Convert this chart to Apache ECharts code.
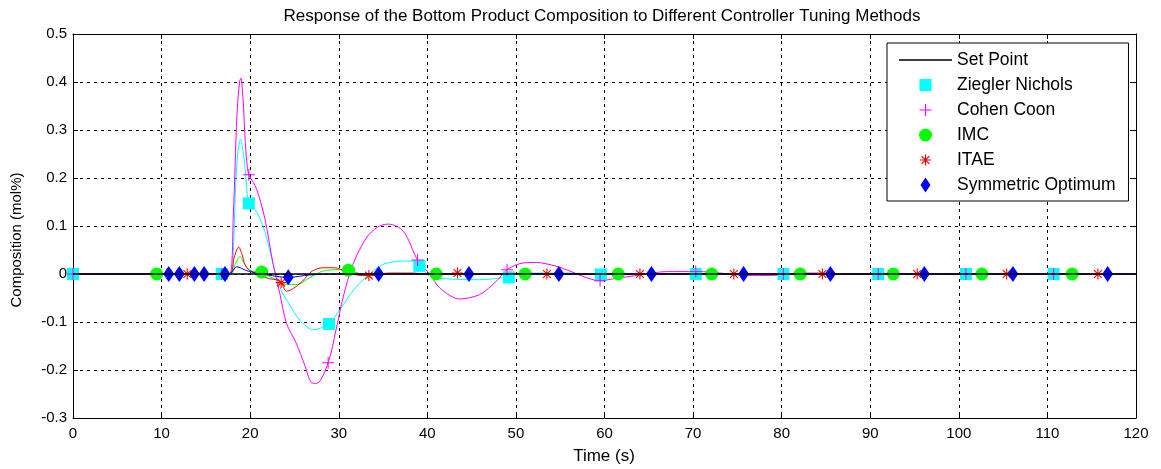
<!DOCTYPE html>
<html>
<head>
<meta charset="utf-8">
<script src="https://cdn.jsdelivr.net/npm/echarts@6/dist/echarts.min.js"></script>
<style>
  html, body { margin: 0; padding: 0; background: #fff; }
  #chart { width: 1161px; height: 469px; }
</style>
</head>
<body>
<div id="chart"></div>
<script>
// time axis (s) and composition (mol%)
var xTicks = [0, 10, 20, 30, 40, 50, 60, 70, 80, 90, 100, 110, 120]
var yTicks = [-0.3, -0.2, -0.1, 0, 0.1, 0.2, 0.3, 0.4, 0.5]

var setT = [0, 120]
var setV = [0, 0]

// Ziegler Nichols
var znT = [0, 16.8, 17.9, 18.1, 18.4, 18.65, 18.9, 19.4, 19.85, 20.7, 21.65, 22.6, 23.5, 24.5, 25.6, 27.1, 28.9, 30.1, 31.2, 32.3, 33.5, 35, 36.5, 38.2, 39.1, 40.3, 42.1, 45.9, 48.5, 49.2, 50.4, 52.3, 56, 59.6, 62, 120]
var znV = [0, 0, 0, 0.05, 0.2, 0.26, 0.281, 0.226, 0.147, 0.13, 0.089, 0.02, -0.034, -0.065, -0.096, -0.116, -0.104, -0.075, -0.045, -0.02, 0, 0.02, 0.026, 0.027, 0.017, -0.005, -0.01, -0.012, -0.008, -0.007, 0.002, 0.002, 0.002, -0.001, 0, 0]
var znMarkT = [0, 16.8, 19.85, 28.9, 39.1, 49.2, 59.6, 70.3, 80.2, 90.9, 100.8, 110.7]
var znMarkV = [0, 0, 0.147, -0.104, 0.017, -0.007, -0.001, 0, 0, 0, 0, 0]

// Cohen Coon
var ccT = [0, 16.8, 17.7, 18.1, 18.5, 18.8, 18.95, 19.2, 19.45, 19.7, 19.85, 20.7, 21.65, 22.6, 23.35, 24.1, 25.2, 26.2, 26.9, 27.5, 28.8, 29.7, 30.5, 31.6, 33.1, 34.4, 35.6, 37.3, 38.9, 40.3, 41.4, 43.6, 45.9, 47.8, 49, 50.8, 52.3, 54.6, 56.1, 58, 59.5, 61, 64, 67, 70.3, 72, 74, 76, 79, 81, 84, 88, 120]
var ccV = [0, 0, 0, 0.123, 0.329, 0.4, 0.408, 0.363, 0.274, 0.219, 0.207, 0.178, 0.116, 0.02, -0.041, -0.103, -0.144, -0.192, -0.226, -0.228, -0.185, -0.116, -0.048, 0.02, 0.075, 0.098, 0.104, 0.089, 0.029, -0.001, -0.029, -0.052, -0.043, -0.015, 0.009, 0.023, 0.024, 0.016, 0.006, -0.008, -0.014, -0.01, -0.002, 0.005, 0.005, 0.004, 0, -0.003, -0.003, 0.001, 0.002, 0, 0]
var ccMarkT = [0, 16.8, 19.85, 28.8, 38.9, 49, 59.5, 70.3, 80.2, 90.9, 100.8, 110.7]
var ccMarkV = [0, 0, 0.207, -0.185, 0.029, 0.009, -0.014, 0.005, 0, 0, 0, 0]

// IMC
var imcT = [0, 17.8, 18.3, 18.85, 19.4, 19.95, 21.1, 23, 24.1, 25.2, 26.7, 28.2, 30, 31.2, 32.7, 35, 36.8, 38, 120]
var imcV = [0, 0, 0.02, 0.036, 0.02, 0.008, 0.003, -0.012, -0.022, -0.022, -0.008, 0.006, 0.009, 0.007, 0, -0.001, -0.001, 0, 0]
var imcMarkT = [9.45, 21.3, 31.1, 41, 51.05, 61.55, 72.1, 82.1, 92.6, 102.6, 112.8]
var imcMarkV = [0, 0.004, 0.008, 0, 0, 0, 0, 0, 0, 0, 0]

// ITAE
var itaeT = [0, 17.6, 18.2, 18.7, 19.1, 19.4, 19.95, 21.1, 22.2, 23, 23.5, 24.1, 24.8, 25.9, 27, 28.2, 29.5, 30.7, 32.4, 33.4, 35.7, 38.4, 40, 120]
var itaeV = [0, 0, 0.035, 0.056, 0.04, 0.02, 0.007, -0.003, -0.01, -0.012, -0.018, -0.036, -0.031, -0.015, 0.006, 0.013, 0.013, 0.006, -0.003, -0.003, 0.002, 0.002, 0, 0]
var itaeMarkT = [12.9, 23.5, 33.4, 43.4, 53.5, 64, 74.6, 84.6, 95.3, 105.4, 115.7]
var itaeMarkV = [0, -0.018, -0.003, 0.002, 0, 0, 0, 0, 0, 0, 0]

// Symmetric Optimum
var soT = [0, 17.6, 18.5, 19.6, 21.1, 23, 24.3, 26.7, 29, 120]
var soV = [0, 0, 0.015, 0.007, 0.001, -0.005, -0.007, -0.002, 0, 0]
var soMarkT = [10.8, 12, 13.7, 14.8, 17.15, 24.3, 34.5, 44.7, 54.85, 65.3, 75.7, 85.5, 96.1, 106.1, 116.8]
var soMarkV = [0, 0, 0, 0, 0, -0.007, 0, 0, 0, 0, 0, 0, 0, 0, 0]

function pairs(t, v) {
  return t.map(function (x, i) { return [x, v[i]] })
}

var font = 'Liberation Sans, Arial, sans-serif'

// symbols
var plusPath = 'path://M-1,-12H1V-1H12V1H1V12H-1V1H-12V-1H-1Z'
var starPath = 'path://M-12,-1.2H12V1.2H-12Z M1.2,-12V12H-1.2V-12Z ' +
  'M-7.6,-9.3L9.3,7.6L7.6,9.3L-9.3,-7.6Z M-9.3,7.6L7.6,-9.3L9.3,-7.6L-7.6,9.3Z'
// legend icons (padding points keep sizes inside the 16px item)
var pad = 'M-8,-8L-8,-8M8,8L8,8'
var lgSquare = 'path://' + pad + 'M-6,-6H6V6H-6Z'
var lgPlus = 'path://' + pad + 'M-0.6,-6H0.6V-0.6H6V0.6H0.6V6H-0.6V0.6H-6V-0.6H-0.6Z'
var lgCircle = 'path://' + pad + 'M0,-6.5A6.5,6.5,0,1,1,0,6.5A6.5,6.5,0,1,1,0,-6.5Z'
var lgStar = 'path://' + pad + 'M-5.5,-0.6H5.5V0.6H-5.5Z M0.6,-5.5V5.5H-0.6V-5.5Z ' +
  'M-3.5,-4.3L4.3,3.5L3.5,4.3L-4.3,-3.5Z M-4.3,3.5L3.5,-4.3L4.3,-3.5L-3.5,4.3Z'
var lgDiamond = 'path://' + pad + 'M0,-7.5L5,0L0,7.5L-5,0Z'

var myCharts = echarts.init(document.getElementById('chart'))

function curve(name, t, v, color) {
  return {
    name: name,
    type: 'line',
    data: pairs(t, v),
    showSymbol: false,
    smooth: 0.3,
    silent: true,
    z: 2,
    lineStyle: { color: color, width: 1 },
    itemStyle: { color: color }
  }
}

function marks(name, t, v, color, symbol, size) {
  return {
    name: name,
    type: 'scatter',
    data: pairs(t, v),
    symbol: symbol,
    symbolSize: size,
    z: 3,
    itemStyle: { color: color, opacity: 1 }
  }
}

myCharts.setOption({
  animation: false,
  backgroundColor: '#fff',
  title: {
    text: 'Response of the Bottom Product Composition to Different Controller Tuning Methods',
    left: 597,
    top: 3,
    textAlign: 'center',
    textStyle: { fontFamily: font, fontSize: 17, fontWeight: 'normal', color: '#000' }
  },
  grid: { left: 73, right: 25, top: 34, bottom: 51, show: false },
  legend: {
    left: 887,
    top: 43,
    orient: 'vertical',
    itemWidth: 53,
    itemHeight: 16,
    itemGap: 7,
    padding: [8, 13, 7, 12],
    borderColor: '#000',
    borderWidth: 1,
    backgroundColor: '#fff',
    textStyle: { fontFamily: font, fontSize: 17.5, color: '#000' },
    selectedMode: false,
    data: [
      { name: 'Set Point', icon: 'path://M0,0H53V1.4H0Z', itemStyle: { color: '#000' } },
      { name: 'Ziegler Nichols', icon: lgSquare, itemStyle: { color: '#00ffff' } },
      { name: 'Cohen Coon', icon: lgPlus, itemStyle: { color: '#ff00ff', borderWidth: 0 } },
      { name: 'IMC', icon: lgCircle, itemStyle: { color: '#00ff00' } },
      { name: 'ITAE', icon: lgStar, itemStyle: { color: '#ff0000' } },
      { name: 'Symmetric Optimum', icon: lgDiamond, itemStyle: { color: '#0000ff' } }
    ]
  },
  xAxis: [
    {
      type: 'value', min: 0, max: 120, interval: 10, position: 'bottom',
      axisLine: { show: true, onZero: false, lineStyle: { color: '#000', width: 1 } },
      axisTick: { show: true, inside: true, length: 5, lineStyle: { color: '#000' } },
      axisLabel: { margin: 8, fontFamily: font, fontSize: 15, color: '#000' },
      splitLine: { show: true, lineStyle: { color: '#000', type: [3, 4], width: 1 } }
    },
    {
      type: 'value', min: 0, max: 120, interval: 10, position: 'top',
      axisLine: { show: true, onZero: false, lineStyle: { color: '#000', width: 1 } },
      axisTick: { show: true, inside: true, length: 5, lineStyle: { color: '#000' } },
      axisLabel: { show: false },
      splitLine: { show: false }
    }
  ],
  yAxis: [
    {
      type: 'value', min: -0.3, max: 0.5, interval: 0.1, position: 'left',
      axisLine: { show: true, onZero: false, lineStyle: { color: '#000', width: 1 } },
      axisTick: { show: true, inside: true, length: 5, lineStyle: { color: '#000' } },
      axisLabel: {
        margin: 6, fontFamily: font, fontSize: 15, color: '#000',
        formatter: function (v) { return String(+v.toFixed(1)) }
      },
      splitLine: { show: true, lineStyle: { color: '#000', type: [3, 4], width: 1 } }
    },
    {
      type: 'value', min: -0.3, max: 0.5, interval: 0.1, position: 'right',
      axisLine: { show: true, onZero: false, lineStyle: { color: '#000', width: 1 } },
      axisTick: { show: true, inside: true, length: 5, lineStyle: { color: '#000' } },
      axisLabel: { show: false },
      splitLine: { show: false }
    }
  ],
  graphic: [
    {
      type: 'text', x: 17, y: 240, rotation: Math.PI / 2,
      style: { text: 'Composition (mol%)', fontFamily: font, fontSize: 15, fill: '#000', align: 'center', verticalAlign: 'middle' }
    },
    {
      type: 'text', x: 604, y: 456,
      style: { text: 'Time (s)', fontFamily: font, fontSize: 17, fill: '#000', align: 'center', verticalAlign: 'middle' }
    }
  ],
  series: [
    curve('zn-line', znT, znV, '#00ffff'),
    curve('cc-line', ccT, ccV, '#ff00ff'),
    curve('imc-line', imcT, imcV, '#00ff00'),
    curve('itae-line', itaeT, itaeV, '#ff0000'),
    curve('so-line', soT, soV, '#0000ff'),
    marks('Ziegler Nichols', znMarkT, znMarkV, '#00ffff', 'rect', 12),
    marks('Cohen Coon', ccMarkT, ccMarkV, '#ff00ff', plusPath, 12),
    marks('IMC', imcMarkT, imcMarkV, '#00ff00', 'circle', 13),
    marks('ITAE', itaeMarkT, itaeMarkV, '#ff0000', starPath, 11),
    marks('Symmetric Optimum', soMarkT, soMarkV, '#0000ff', 'diamond', [11, 16]),
    {
      name: 'Set Point',
      type: 'line',
      data: pairs(setT, setV),
      showSymbol: false,
      silent: true,
      z: 5,
      lineStyle: { color: '#000', width: 1.5 },
      itemStyle: { color: '#000' }
    }
  ]
})
</script>
</body>
</html>
